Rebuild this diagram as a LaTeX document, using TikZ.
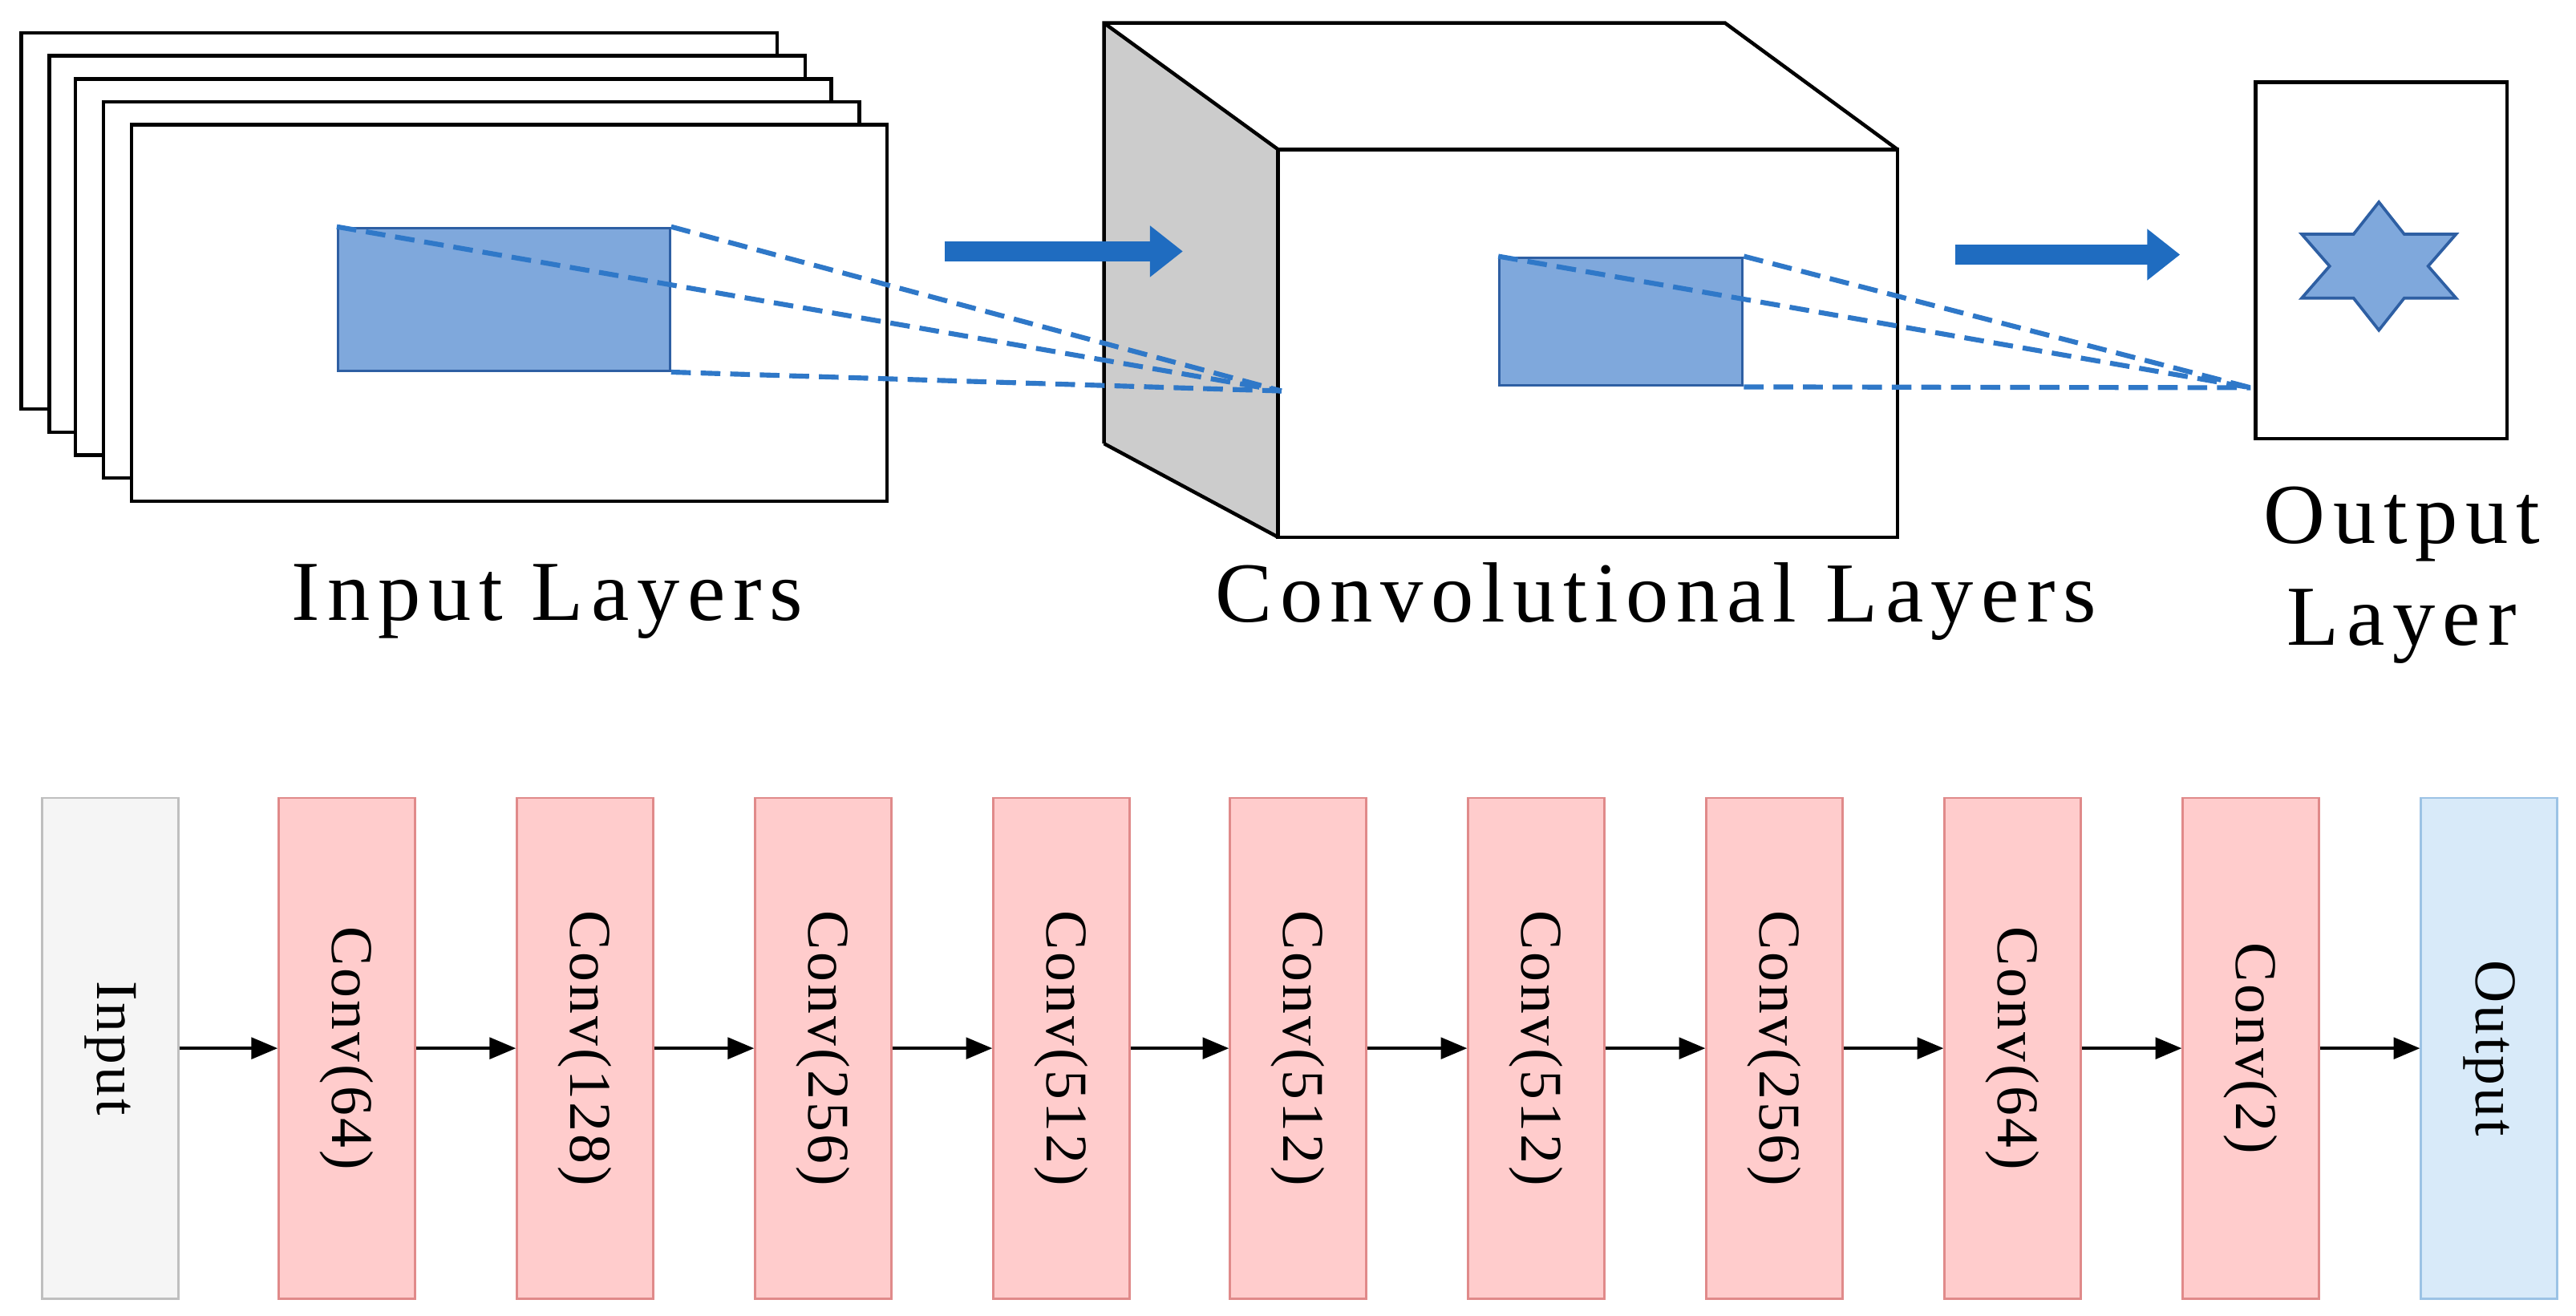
\documentclass[tikz,border=0pt]{standalone}
\usepackage{fontspec}
\setmainfont{Liberation Serif}
\usetikzlibrary{arrows.meta,shapes.geometric}
\definecolor{bfill}{HTML}{7FA8DC}
\definecolor{bline}{HTML}{2E5FA3}
\definecolor{dashc}{HTML}{2F78C8}
\definecolor{arr}{HTML}{1F6CC0}
\definecolor{pk}{HTML}{FFCCCC}
\definecolor{pkl}{HTML}{E08A8A}
\definecolor{lb}{HTML}{D8EAF9}
\definecolor{lbl}{HTML}{9CC3E5}
\begin{document}
\begin{tikzpicture}[x=1pt,y=-1pt,
 sheet/.style={draw=black,line width=2.2pt,fill=white},
 patch/.style={draw=bline,line width=1.5pt,fill=bfill},
 dl/.style={draw=dashc,line width=3pt,dash pattern=on 12pt off 6pt},
 bigarr/.style={draw=arr,line width=12pt,-{Triangle[length=20pt,width=30pt]}},
 lab/.style={font=\fontsize{52}{62}\selectfont\addfontfeature{LetterSpace=9},align=center},
 blk/.style={minimum width=83pt,minimum height=305pt,anchor=north west,line width=1.2pt,draw=pkl,fill=pk,inner sep=0pt},
 blt/.style={rotate=-90,font=\fontsize{36}{40}\selectfont\addfontfeature{LetterSpace=4}},
 ln/.style={line width=1.8pt,-{Triangle[length=16pt,width=13pt]}}]
\useasboundingbox (0,0) rectangle (1568,801);
% input stack
\foreach \i/\dx/\dy in {4/13/20,3/30/34,2/46/48,1/63/62}{
 \draw[sheet] (\dx,\dy) rectangle ++(460,229);}
\draw[sheet] (80,76) rectangle (540,305);
\node[patch,anchor=north west,minimum width=202pt,minimum height=87pt,inner sep=0pt] (p1) at (205,138) {};
% cube
\fill[gray!40] (672,14) -- (778,91) -- (778,327) -- (672,270) -- cycle;
\draw[line width=2.2pt] (672,270) -- (672,14) -- (1050,14) -- (1155,91);
\draw[line width=2.2pt] (672,14) -- (778,91);
\draw[line width=2.2pt] (672,270) -- (778,327);
\draw[sheet] (778,91) rectangle (1155,327);
\coordinate (c1) at (780,238);
\node[patch,anchor=north west,minimum width=148pt,minimum height=78pt,inner sep=0pt] (p2) at (912,156) {};
\coordinate (c2) at (1370,236);
\draw[dl] (p1.north west) -- (c1); \draw[dl] (p1.north east) -- (c1); \draw[dl] (p1.south east) -- (c1);
\draw[dl] (p2.north west) -- (c2); \draw[dl] (p2.north east) -- (c2); \draw[dl] (p2.south east) -- (c2);
% output
\draw[sheet,fill=none] (1373,50) rectangle (1526,267);
\draw[draw=bline,fill=bfill,line width=1.8pt,line join=miter,shift={(1448,162)}]
 (0,-39) -- (15.4,-19.5) -- (47,-19.5) -- (30,0) -- (47,19.5) -- (15.4,19.5) -- (0,39)
 -- (-15.4,19.5) -- (-47,19.5) -- (-30,0) -- (-47,-19.5) -- (-15.4,-19.5) -- cycle;
\coordinate (a1) at (575,153); \coordinate (a2) at (720,153);
\coordinate (a3) at (1190,155); \coordinate (a4) at (1327,155);
\draw[bigarr] (a1) -- (a2);
\draw[bigarr] (a3) -- (a4);
\node[lab] (l1) at (333,366) {Input Layers};
\node[lab] (l2) at (1008,366) {Convolutional Layers};
\node[lab] (l3) at (1462,350) {Output\\Layer};
% bottom
\node[blk,draw=gray!50,fill=gray!8] (b0) at (25,485) {};
\node[blt] at (b0.center) {Input};
\foreach \n/\x/\t in {1/169/64,2/314/128,3/459/256,4/604/512,5/748/512,6/893/512,7/1038/256,8/1183/64,9/1328/2}{
 \node[blk] (b\n) at (\x,485) {};
 \node[blt] at (b\n.center) {Conv(\t)};}
\node[blk,draw=lbl,fill=lb] (b10) at (1473,485) {};
\node[blt] at (b10.center) {Output};
\foreach \a/\b in {0/1,1/2,2/3,3/4,4/5,5/6,6/7,7/8,8/9,9/10}{
 \draw[ln] (b\a.east) -- (b\b.west);}
\end{tikzpicture}
\end{document}
